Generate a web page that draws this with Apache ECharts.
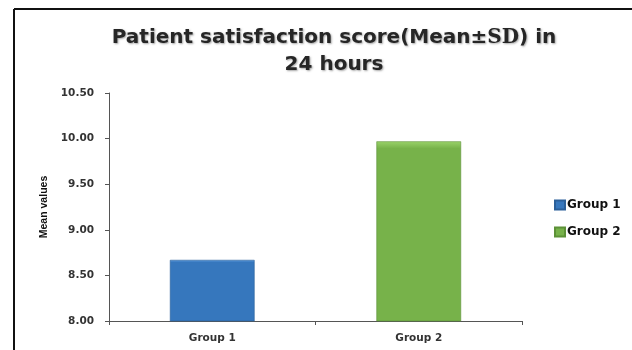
<!DOCTYPE html>
<html>
<head>
<meta charset="utf-8">
<script src="https://cdn.jsdelivr.net/npm/echarts@6/dist/echarts.min.js"></script>
<style>html,body{margin:0;padding:0;background:#fff}#c{width:632px;height:350px}</style>
</head>
<body>
<div id="c"></div>
<script>
const categories = ["Group 1", "Group 2"];
const seriesNames = ["Group 1", "Group 2"];
const meanValues = [8.67, 9.97];
const yTicks = [8.0, 8.5, 9.0, 9.5, 10.0, 10.5];

const colors = [
  {top: '#5b9be0', main: '#3677bd', edge: '#2a5f99'},
  {top: '#9ad36a', main: '#77b24a', edge: '#5c9137'}
];

const chart = echarts.init(document.getElementById('c'));
const series = seriesNames.map((name, i) => ({
  name: name,
  type: 'bar',
  stack: 'all',
  barWidth: '41%',
  data: categories.map((c, j) => j === i ? meanValues[i] : '-'),
  itemStyle: {
    color: new echarts.graphic.LinearGradient(0, 0, 0, 1, [
      {offset: 0, color: colors[i].top},
      {offset: 0.04, color: colors[i].main},
      {offset: 1, color: colors[i].main}
    ]),
    borderColor: colors[i].edge,
    borderWidth: 0.6
  }
}));

const shadow = {textShadowColor: 'rgba(0,0,0,0.35)', textShadowBlur: 2, textShadowOffsetX: 1, textShadowOffsetY: 1};

chart.setOption({
  animation: false,
  backgroundColor: '#fff',
  color: [colors[0].main, colors[1].main],
  title: {
    text: '{a|Patient satisfaction score(Mean±}{b|SD}{a|) in}\n{a|24 hours}',
    left: 329,
    textAlign: 'center',
    top: 19,
    textStyle: {
      rich: {
        a: Object.assign({fontFamily: 'DejaVu Sans', fontWeight: 'bold', fontSize: 20, color: '#262626', lineHeight: 27}, shadow),
        b: Object.assign({fontFamily: 'DejaVu Serif', fontWeight: 'bold', fontSize: 20, color: '#262626', lineHeight: 27}, shadow)
      }
    }
  },
  legend: {
    orient: 'vertical',
    left: 549,
    top: 194,
    itemWidth: 10,
    itemHeight: 9,
    itemGap: 15,
    icon: 'rect',
    data: seriesNames,
    textStyle: {fontFamily: 'DejaVu Sans', fontWeight: 'bold', fontSize: 12, color: '#111', padding: [0, 0, 0, -3]}
  },
  grid: {left: 109, right: 110, top: 93, bottom: 29},
  xAxis: {
    type: 'category',
    data: categories,
    axisLine: {lineStyle: {color: '#555', width: 1}},
    axisTick: {show: true, length: 4, alignWithLabel: false, lineStyle: {color: '#555'}},
    axisLabel: {fontFamily: 'DejaVu Sans', fontWeight: 'bold', fontSize: 10.5, color: '#333', margin: 12}
  },
  yAxis: {
    type: 'value',
    min: yTicks[0],
    max: yTicks[yTicks.length - 1],
    interval: 0.5,
    name: 'Mean values',
    nameLocation: 'middle',
    nameGap: 58,
    nameTextStyle: {fontFamily: 'Liberation Sans', fontWeight: 'bold', fontSize: 10.5, color: '#111'},
    axisLine: {show: true, lineStyle: {color: '#555', width: 1}},
    axisTick: {show: true, length: 4, inside: false, lineStyle: {color: '#555'}},
    splitLine: {show: false},
    axisLabel: {fontFamily: 'DejaVu Sans', fontWeight: 'bold', fontSize: 10.5, color: '#333', margin: 15,
      formatter: v => v.toFixed(2)}
  },
  graphic: [
    {type: 'line', shape: {x1: 14, y1: 9, x2: 632, y2: 9}, style: {stroke: '#111', lineWidth: 2}},
    {type: 'line', shape: {x1: 14, y1: 9, x2: 14, y2: 350}, style: {stroke: '#111', lineWidth: 2}}
  ],
  series: series
});
</script>
</body>
</html>
